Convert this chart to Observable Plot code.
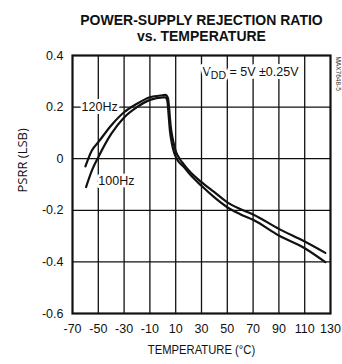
<!DOCTYPE html>
<html>
<head>
<meta charset="utf-8">
<script src="https://cdn.jsdelivr.net/npm/d3@7"></script>
<script src="https://cdn.jsdelivr.net/npm/@observablehq/plot@0.6"></script>
<style>
  body { margin: 0; background: #fff; overflow: hidden; }
  svg { font-family: "Liberation Sans", Arial, sans-serif; }
</style>
</head>
<body>
<div id="chart"></div>
<script>
// PSRR vs temperature, two ripple frequencies
const temp120 = [-60, -55, -50, -40, -30, -20, -10, 0, 2, 4, 5, 6, 8, 10, 13, 16, 20, 30, 40, 50, 60, 70, 90, 110, 126];
const psrr120 = [-0.03, 0.032, 0.064, 0.129, 0.18, 0.213, 0.238, 0.246, 0.247, 0.235, 0.19, 0.13, 0.07, 0.03, 0.0, -0.02, -0.045, -0.091, -0.13, -0.169, -0.195, -0.216, -0.272, -0.321, -0.365];
const temp100 = [-59.5, -55, -50, -40, -30, -20, -10, 0, 2, 3.5, 4.5, 5.5, 7, 9, 12, 16, 20, 30, 40, 50, 60, 70, 90, 110, 126];
const psrr100 = [-0.11, -0.046, 0.006, 0.096, 0.16, 0.2, 0.228, 0.238, 0.238, 0.225, 0.17, 0.11, 0.06, 0.02, -0.01, -0.03, -0.055, -0.105, -0.15, -0.188, -0.215, -0.237, -0.298, -0.347, -0.401];

const xTicks = [-70, -50, -30, -10, 10, 30, 50, 70, 90, 110, 130];
const xTickLabels = ["-70", "-50", "-30", "-10", "10", "30", "50", "70", "90", "110", "130"];
const yTicks = [-0.6, -0.4, -0.2, 0, 0.2, 0.4];
const yTickLabels = ["-0.6", "-0.4", "-0.2", "0", "0.2", "0.4"];

const series120 = temp120.map((t, i) => ({t, v: psrr120[i]}));
const series100 = temp100.map((t, i) => ({t, v: psrr100[i]}));

// grid drawn as line paths spanning the tick range
const xMin = xTicks[0], xMax = xTicks[xTicks.length - 1];
const yMin = yTicks[0], yMax = yTicks[yTicks.length - 1];
const gridLines = [
  ...xTicks.slice(1, -1).flatMap((t) => [{t, v: yMin, k: "x" + t}, {t, v: yMax, k: "x" + t}]),
  ...yTicks.slice(1, -1).flatMap((v) => [{t: xMin, v, k: "y" + v}, {t: xMax, v, k: "y" + v}])
];

const labels = [
  {t: -49, v: 0.2, text: "120Hz"},
  {t: -36, v: -0.085, text: "100Hz"}
];

const ink = "#111";

const chart = Plot.plot({
  width: 342,
  height: 364,
  marginLeft: 72,
  marginRight: 12,
  marginTop: 55,
  marginBottom: 51,
  style: {fontSize: "12px", color: ink},
  x: {domain: [xMin, xMax], label: null},
  y: {domain: [yMin, yMax], label: null},
  marks: [
    Plot.line(gridLines, {x: "t", y: "v", z: "k", stroke: ink, strokeWidth: 1.3}),
    Plot.frame({stroke: ink, strokeWidth: 2.2, fill: "none"}),
    Plot.axisX(xTicks, {tickSize: 0, tickPadding: 11, fontSize: 12.5, tickFormat: (d) => xTickLabels[xTicks.indexOf(d)], label: null}),
    Plot.axisY(yTicks, {tickSize: 0, tickPadding: 9, fontSize: 12.5, tickFormat: (d) => yTickLabels[yTicks.indexOf(d)], label: null}),
    Plot.text(labels, {x: "t", y: "v", text: "text", fontSize: 12.5, fill: ink, stroke: "white", strokeWidth: 6}),
    Plot.text(["VDD = 5V ±0.25V"], {x: 68, y: 0.335, text: (d) => d, fontSize: 12.5, fill: ink, stroke: "white", strokeWidth: 6, className: "vdd"}),
    Plot.line(series120, {x: "t", y: "v", curve: "monotone-x", stroke: ink, strokeWidth: 2.2}),
    Plot.line(series100, {x: "t", y: "v", curve: "monotone-x", stroke: ink, strokeWidth: 2.2}),
    Plot.text(["TEMPERATURE (°C)"], {frameAnchor: "bottom", dy: 40, text: (d) => d, fontSize: 12.5, fill: ink, className: "narrow"}),
    Plot.text(["PSRR (LSB)"], {frameAnchor: "left", dx: -50, dy: 8, rotate: -90, text: (d) => d, fontSize: 13, fontFamily: "Open Sans", fill: ink}),
    Plot.text(["POWER-SUPPLY REJECTION RATIO"], {frameAnchor: "top", dy: -40, text: (d) => d, fontSize: 14, fontWeight: "bold", fill: ink}),
    Plot.text(["vs. TEMPERATURE"], {frameAnchor: "top", dy: -24, text: (d) => d, fontSize: 14, fontWeight: "bold", fill: ink}),
    Plot.text(["MAX7648-5"], {frameAnchor: "top-right", dx: 10, dy: 1, rotate: 90, textAnchor: "start", text: (d) => d, fontSize: 6.5, fill: "#333"})
  ]
});

// subscript for V_DD
d3.select(chart).selectAll(".vdd text").each(function () {
  const t = d3.select(this);
  t.text(null);
  t.append("tspan").text("V");
  t.append("tspan").attr("dy", "0.3em").attr("font-size", "10.5px").text("DD");
  t.append("tspan").attr("dy", "-0.3em").text(" = 5V ±0.25V");
});

// condensed axis title
d3.select(chart).selectAll(".narrow text").each(function () {
  const t = d3.select(this);
  const tr = t.attr("transform") || "";
  t.attr("transform", tr + " scale(0.9,1)");
});

document.getElementById("chart").append(chart);
</script>
</body>
</html>
